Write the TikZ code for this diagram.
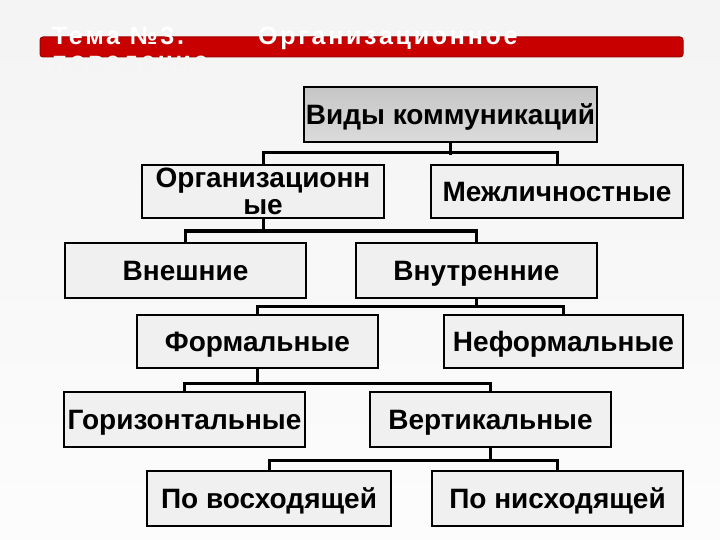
\documentclass[tikz,border=0pt]{standalone}
\usepackage{fontspec}
\setmainfont{Liberation Sans}
\newfontfamily\titlefam[LetterSpace=11]{Liberation Sans}
\usetikzlibrary{calc}
\definecolor{boxfill}{HTML}{F0F0F0}
\definecolor{barred}{HTML}{C80000}
\definecolor{barrededge}{HTML}{A00000}
\newcommand{\boxfont}{\fontsize{28}{27}\selectfont\bfseries}
\newcommand{\ttlfont}{\titlefam\fontsize{25}{25}\selectfont\bfseries}
\begin{document}
\begin{tikzpicture}[x=1pt,y=-1pt,
  box/.style={draw=black, line width=2pt, fill=boxfill, inner sep=0pt, font=\boxfont, align=center},
  one/.style={text height=20.2pt, text depth=0pt},
  conn/.style={draw=black, line width=3pt, line join=miter}]
\useasboundingbox (0,0) rectangle (720,540);
\fill[top color=gray!9, bottom color=white!98!gray] (0,0) rectangle (720,540);
% header
\node[draw=barrededge, line width=1pt, fill=barred, rounded corners=3pt, minimum width=643, minimum height=20, inner sep=0pt] (bar) at (361.5,47) {};
\node[anchor=base west, text=white, font=\ttlfont, inner sep=0pt] (t1) at (52,45) {Тема №3.};
\node[anchor=base west, text=white, font=\ttlfont, inner sep=0pt] (t2) at (258,45) {Организационное};
\node[anchor=base west, text=gray!9, font=\ttlfont, inner sep=0pt] (t3) at (52,70) {поведение};
% boxes
\node[box, one, line width=1.2pt, top color=gray!45, bottom color=gray!28, minimum width=293, minimum height=55] (top) at (450.5,114.5) {Виды коммуникаций};
\node[box, minimum width=242, minimum height=53] (org) at (263,191.5) {Организационн\\ые};
\node[box, one, minimum width=252, minimum height=53] (mezh) at (557,191.5) {Межличностные};
\node[box, one, minimum width=241, minimum height=55] (vnesh) at (185.5,270.5) {Внешние};
\node[box, one, minimum width=241, minimum height=55] (vnutr) at (476.5,270.5) {Внутренние};
\node[box, one, minimum width=241, minimum height=53] (form) at (257.5,341.5) {Формальные};
\node[box, one, minimum width=239, minimum height=53] (neform) at (563.5,341.5) {Неформальные};
\node[box, one, minimum width=241, minimum height=55] (gor) at (184.5,419.5) {Горизонтальные};
\node[box, one, minimum width=241, minimum height=55] (vert) at (490.5,419.5) {Вертикальные};
\node[box, one, minimum width=244, minimum height=55] (vosh) at (269,498.5) {По восходящей};
\node[box, one, minimum width=251, minimum height=55] (nish) at (557.5,498.5) {По нисходящей};
% connectors
\draw[conn] (top.south) -- ++(0,12);
\draw[conn] (org.north) -- ++(0,-11) -| (mezh.north);
\draw[conn] (org.south) -- ++(0,14);
\draw[conn] (vnesh.north) -- ++(0,-11) -| (vnutr.north);
\draw[conn] (vnutr.south) -- ++(0,9);
\draw[conn] (form.north) -- ++(0,-8) -| (neform.north);
\draw[conn] (form.south) -- ++(0,16);
\draw[conn] (gor.north) -- ++(0,-8) -| (vert.north);
\draw[conn] (vert.south) -- ++(0,14);
\draw[conn] (vosh.north) -- ++(0,-10) -| (nish.north);
\end{tikzpicture}
\end{document}
